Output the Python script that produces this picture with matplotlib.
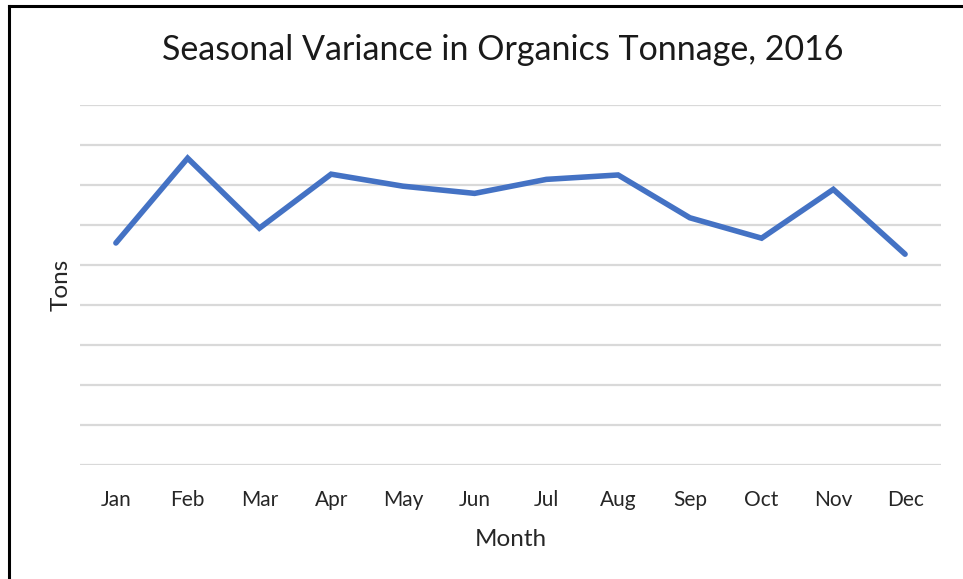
import matplotlib
matplotlib.use("Agg")
import matplotlib.pyplot as plt
from matplotlib.lines import Line2D

# 数据（从图中读取，单位为网格格数）
months = ["Jan", "Feb", "Mar", "Apr", "May", "Jun",
          "Jul", "Aug", "Sep", "Oct", "Nov", "Dec"]
tons = [5.55, 7.67, 5.92, 7.27, 6.97, 6.79, 7.14, 7.25, 6.18, 5.67, 6.89, 5.27]
grid_levels = [0, 1, 2, 3, 4, 5, 6, 7, 8, 9]

plt.rcParams['font.family'] = ['Lato', 'DejaVu Sans']

fig = plt.figure(figsize=(9.63, 5.79), dpi=100)
ax = fig.add_axes([0.0831, 0.1969, 0.894, 0.6218])

x = list(range(len(months)))
ax.plot(x, tons, color='#4472C4', linewidth=4.0, solid_joinstyle='miter',
        solid_capstyle='round', zorder=3)

ax.set_xlim(-0.5, len(months) - 0.5)
ax.set_ylim(0, 9)
for g in grid_levels:
    ax.axhline(g, color='#d9d9d9', linewidth=1.6, zorder=1)

ax.set_xticks(x)
ax.set_xticklabels(months, fontsize=15, color='#262626')
ax.set_yticks([])
ax.tick_params(axis='x', length=0, pad=18)
for s in ax.spines.values():
    s.set_visible(False)

ax.set_xlabel("Month", fontsize=17.5, color='#262626', labelpad=14)
ax.set_ylabel("Tons", fontsize=17.5, color='#262626', labelpad=6)
fig.text(0.522, 0.913, "Seasonal Variance in Organics Tonnage, 2016",
         ha='center', va='center', fontsize=24.5, color='#1a1a1a')

# 截图边框（左侧和顶部）
fig.add_artist(Line2D([9 / 963, 9 / 963], [0, 1 - 6 / 579], transform=fig.transFigure,
                      color='black', linewidth=2.2))
fig.add_artist(Line2D([9 / 963, 1], [1 - 6 / 579, 1 - 6 / 579], transform=fig.transFigure,
                      color='black', linewidth=2.2))

fig.savefig("out.png", dpi=100)
